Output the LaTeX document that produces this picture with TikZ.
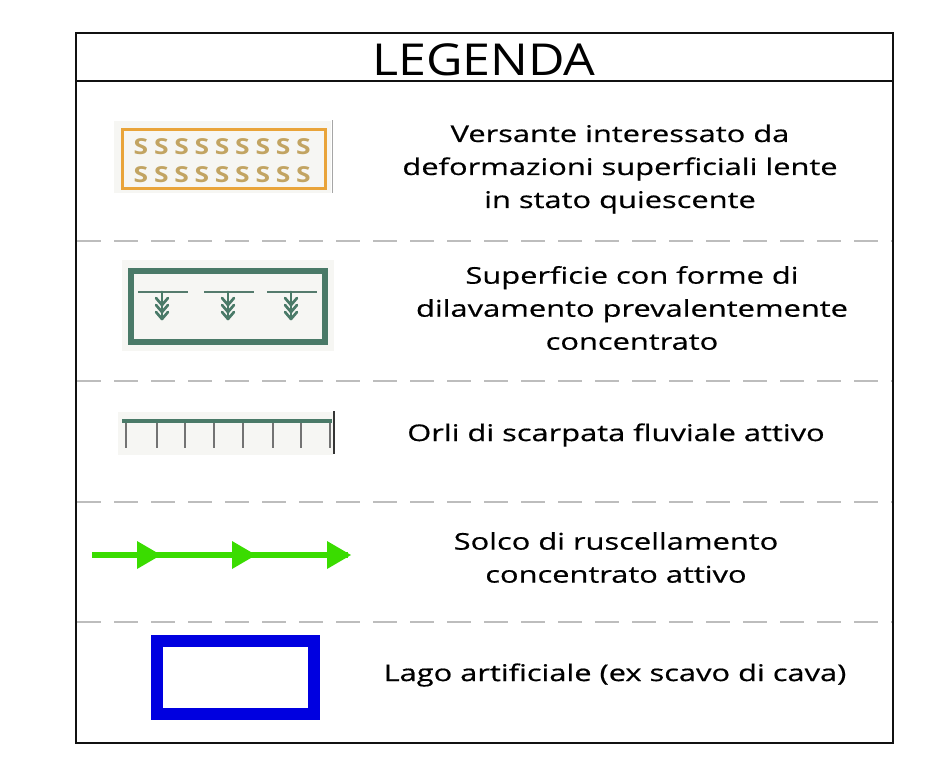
\documentclass[tikz,border=0pt]{standalone}
\usepackage{fontspec}
\setmainfont{Open Sans}
\newfontfamily\lblfont[FakeStretch=1.34,FakeBold=0.6]{Open Sans}
\newfontfamily\titlefont[FakeStretch=1.14]{Open Sans}
\newfontfamily\sfont[FakeStretch=1.2]{Open Sans}
\definecolor{frameblack}{HTML}{111111}
\definecolor{sepgrey}{HTML}{BDBDBD}
\definecolor{sorange}{HTML}{E9A43A}
\definecolor{stan}{HTML}{C2A462}
\definecolor{dgreen}{HTML}{4A7A68}
\definecolor{lgreen}{HTML}{3ADC00}
\definecolor{lblue}{HTML}{0000E0}
\definecolor{symbg}{HTML}{F6F6F3}
\tikzset{
  sep/.style={draw=sepgrey, line width=1.2pt, dash pattern=on 24pt off 13pt},
  lbl/.style={align=center, font=\lblfont\fontsize{23}{33}\selectfont, inner sep=0pt},
  sletter/.style={text=stan, font=\sfont\bfseries\fontsize{22}{22}\selectfont, inner sep=0pt},
  chev/.style={draw=dgreen, line width=2.7pt, line cap=round, line join=round},
}
\begin{document}
\begin{tikzpicture}[x=1pt,y=-1pt]
\useasboundingbox (0,0) rectangle (946,764);
\fill[white] (0,0) rectangle (946,764);
% frame
\draw[frameblack, line width=2.5pt] (76,33) rectangle (893,743);
\draw[frameblack, line width=2.5pt] (76,81) -- (893,81);
\node[font=\titlefont\fontsize{44}{44}\selectfont, inner sep=0pt] (title) at (484,60) {LEGENDA};
% separators
\foreach \yy in {241,381,502,622} \draw[sep] (77,\yy) -- (892,\yy);
% symbol 1
\fill[symbg] (114,121) rectangle (331,193);
\draw[sorange, line width=3pt] (122,129) rectangle (325,188);
\foreach \i in {0,...,8} {
  \node[sletter] (sa\i) at (141+\i*20.3,147) {S};
  \node[sletter] (sb\i) at (141+\i*20.3,175) {S};
}
\draw[gray!70, line width=0.8pt] (332,120) -- (332,193);
\node[lbl] (t1) at (620,169) {Versante interessato da\\deformazioni superficiali lente\\in stato quiescente};
% symbol 2
\fill[symbg] (122,260) rectangle (334,351);
\draw[dgreen, line width=6pt] (131,271) rectangle (325,342);
\foreach \cx in {162,228,291} {
  \draw[dgreen!80!gray, line width=2.2pt] (\cx-24,292) -- (\cx+26,292);
  \draw[chev] (\cx,292) -- (\cx,318);
  \foreach \cy in {298,305,312} \draw[chev] (\cx-6,\cy) -- (\cx,\cy+7) -- (\cx+6,\cy);
}
\node[lbl] (t2) at (632,308) {Superficie con forme di\\dilavamento prevalentemente\\concentrato};
% symbol 3
\fill[symbg] (118,412) rectangle (333,455);
\foreach \tx in {126,157,185,214,243,273,301,330} \draw[gray!90!black, line width=1.3pt] (\tx,421) -- (\tx,448);
\draw[dgreen, line width=4.5pt] (122,421) -- (332,421);
\draw[frameblack!85, line width=1.6pt] (334,411) -- (334,454);
\node[lbl] (t3) at (616,435) {Orli di scarpata fluviale attivo};
% symbol 4
\draw[lgreen, line width=6pt] (92,555) -- (348,555);
\foreach \ax in {137,232,327} \fill[lgreen] (\ax,541) -- (\ax+24,555) -- (\ax,569) -- cycle;
\node[lbl] (t4) at (616,557.5) {Solco di ruscellamento\\concentrato attivo};
% symbol 5
\draw[lblue, line width=12pt] (157,641) rectangle (314,714);
\node[lbl] (t5) at (615,675) {Lago artificiale (ex scavo di cava)};
\end{tikzpicture}
\end{document}
